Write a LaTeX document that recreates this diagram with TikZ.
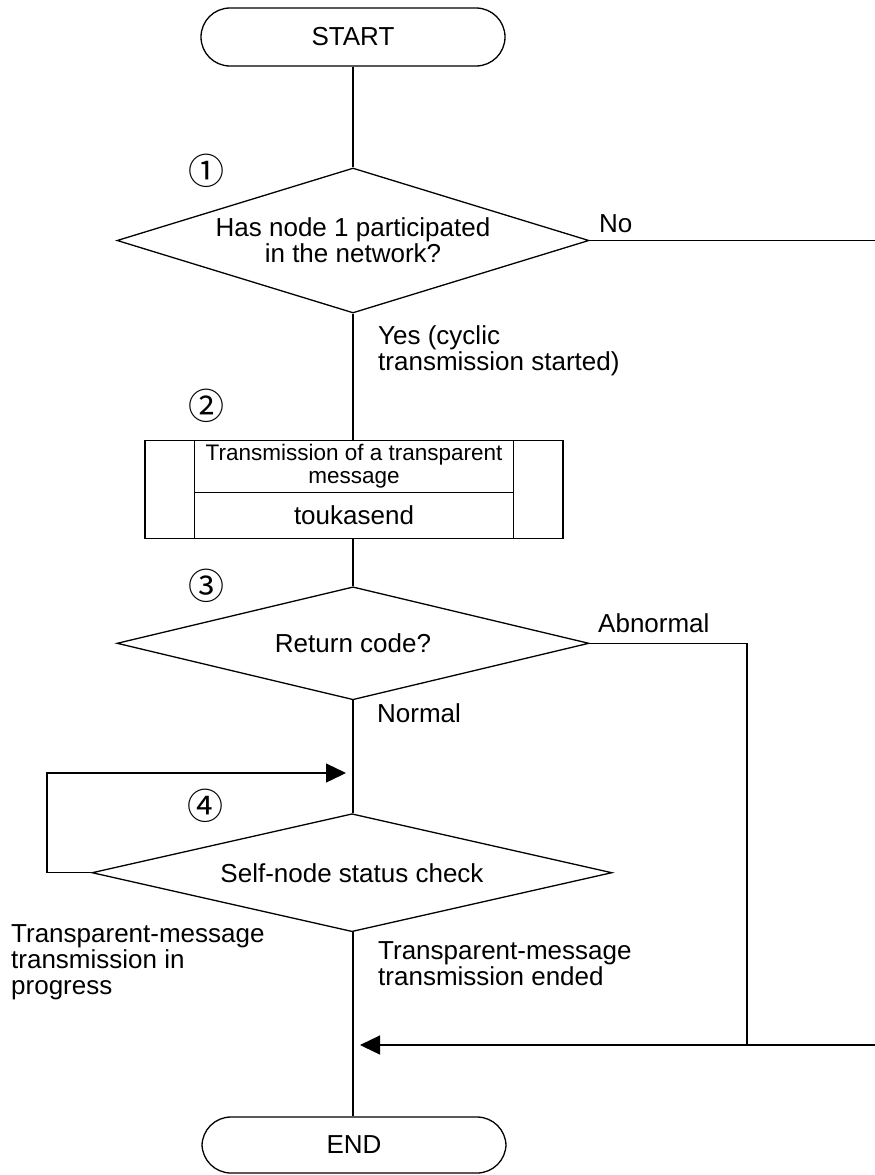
\documentclass[tikz,border=0pt]{standalone}
\usepackage{fontspec}
\setmainfont{Liberation Sans}
\newfontfamily\circfont{Noto Sans CJK JP}
\usetikzlibrary{shapes.geometric,arrows.meta,calc}
\tikzset{
  ln/.style={line width=1.3pt},
  txt/.style={font=\fontsize{26}{26}\selectfont},
  term/.style={draw, ln, rounded corners=29pt, minimum width=304pt, inner sep=0pt, txt},
  decis/.style={draw, ln, diamond, inner sep=0pt, align=center, txt},
  lbl/.style={anchor=base west, align=left, inner sep=0pt, txt},
  num/.style={inner sep=0pt, font=\circfont\fontsize{36}{36}\selectfont},
  arr/.style={ln, -{Triangle[length=20pt,width=19pt]}},
}
\begin{document}
\begin{tikzpicture}[x=1pt,y=-1pt]
\useasboundingbox (0,0) rectangle (875,1175);
% nodes
\node[term, minimum height=58pt] (start) at (353,37) {START};
\node[decis, aspect=3.26, minimum width=472pt, minimum height=145pt] (d1) at (353,240.5) {Has node 1 participated\\in the network?};
\node[draw, ln, minimum width=418pt, minimum height=98pt, inner sep=0pt] (sub) at (354,489.2) {};
\node[decis, aspect=4.18, minimum width=472pt, minimum height=113pt] (d3) at (353,643.3) {Return code?};
\node[decis, aspect=4.41, minimum width=520pt, minimum height=118pt] (d4) at (352,872.7) {Self-node status check};
\node[term, minimum height=56pt] (end) at (354,1145) {END};
% predefined process internals
\coordinate (il) at ($(sub.north west)+(50,0)$);
\coordinate (ir) at ($(sub.north east)+(-50,0)$);
\draw[ln] (il) -- (il |- sub.south);
\draw[ln] (ir) -- (ir |- sub.south);
\draw[ln] (il |- 0,492.7) -- (ir |- 0,492.7);
\node[inner sep=0pt, align=center, font=\fontsize{22.5}{23}\selectfont] (subt) at (354,466) {Transmission of a transparent\\message};
\node[inner sep=0pt, txt] (subn) at (354,515.5) {toukasend};
% circled numbers
\node[num] (n1) at (206,171) {①};
\node[num] (n2) at (206,406) {②};
\node[num] (n3) at (206,586) {③};
\node[num] (n4) at (205,806) {④};
% labels
\node[lbl] (lno) at (599,232) {No};
\node[lbl] (lyes) at (378,370) {Yes (cyclic\\transmission started)};
\node[lbl] (labn) at (598,632) {Abnormal};
\node[lbl] (lnor) at (377,722) {Normal};
\node[lbl] (lprog) at (11,994) {Transparent-message\\transmission in\\progress};
\node[lbl] (lend) at (378,985) {Transparent-message\\transmission ended};
% helper coordinates
\coordinate (rtop) at (875,240.5);
\coordinate (rbot) at (875,1045);
\coordinate (jab) at (747,1045);
\coordinate (m2) at (353,1045);
\coordinate (lp) at (47,773);
\coordinate (m1) at (353,773);
% connectors
\draw[ln] (start) -- (d1);
\draw[ln] (d1.south) -- (d1.south |- sub.north);
\draw[ln] (d1.south |- sub.south) -- (d3.north);
\draw[ln] (d3.south) -- (d3.south |- d4.north);
\draw[ln] (d3.south |- d4.south) -- (d3.south |- end.north);
\draw[ln] (d1.east) -- (rtop);
\draw[ln] (d3.east) -| (jab);
\draw[arr, shorten >=7pt] (rbot) -- (m2);
\draw[arr, shorten >=7pt] (d4.west) -| (lp) -- (m1);
\end{tikzpicture}
\end{document}
